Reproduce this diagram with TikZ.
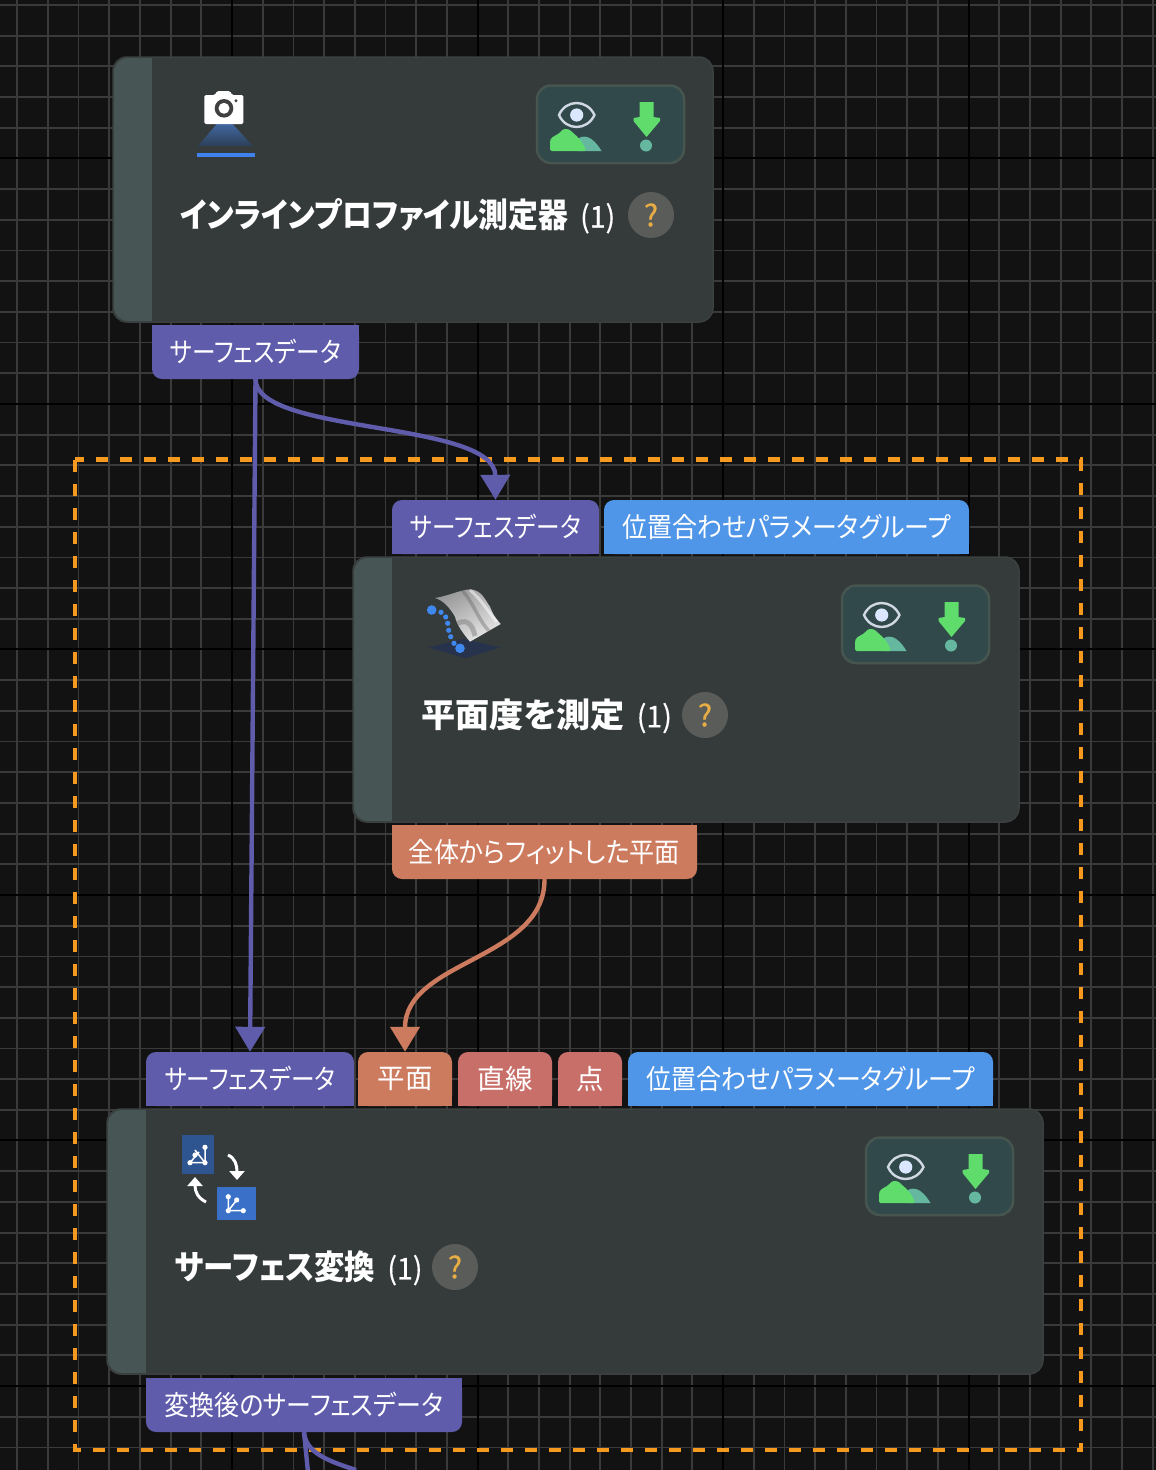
\documentclass[tikz,border=0pt]{standalone}
\usepackage{fontspec}
\usepackage{graphicx}
\usetikzlibrary{arrows.meta}
\setmainfont{Noto Sans CJK JP}[RawFeature={+palt}]
\newfontfamily\jp{Noto Sans CJK JP}[RawFeature={+palt}]
\newfontfamily\jpm{Noto Sans CJK JP}[FakeBold=0.5]
\definecolor{bg}{HTML}{121212}
\definecolor{gridc}{HTML}{3A3A3A}
\definecolor{nodec}{HTML}{353B3B}
\definecolor{nodeb}{HTML}{3A4140}
\definecolor{stripc}{HTML}{475655}
\definecolor{purp}{HTML}{5F5CAB}
\definecolor{bluep}{HTML}{5096E8}
\definecolor{orgp}{HTML}{CD7B5E}
\definecolor{redp}{HTML}{C96F6A}
\definecolor{framec}{HTML}{F59A1E}
\definecolor{greenc}{HTML}{5FDC6C}
\definecolor{tealc}{HTML}{66B7A0}
\definecolor{visb}{HTML}{31494A}
\definecolor{visl}{HTML}{46564F}
\definecolor{eyec}{HTML}{D0D8E4}
\definecolor{irisc}{HTML}{DBE6FF}
\definecolor{qc}{HTML}{5A5C5A}
\definecolor{qt}{HTML}{E8AD45}
\definecolor{trapt}{HTML}{41669F}
\definecolor{trapb}{HTML}{2C3F58}
\definecolor{barc}{HTML}{3F82EE}
\definecolor{sqa}{HTML}{2F5591}
\definecolor{sqb}{HTML}{3A70C8}
\definecolor{groundc}{HTML}{27334D}
\definecolor{dotc}{HTML}{3F88F0}
\tikzset{
  px/.style={x=1pt,y=-1pt},
  porttext/.style={inner sep=0pt,text=white,font=\jp\fontsize{27.5}{27.5}\selectfont,minimum height=54pt,rounded corners=10pt},
  titletext/.style={inner sep=0pt,anchor=west,text=white,font=\jp\fontsize{33.5}{33.5}\selectfont},
  nodebox/.style={fill=nodec,draw=nodeb,line width=1.5pt,rounded corners=14pt,inner sep=0pt,minimum height=265pt},
  wire/.style={line width=4.4pt},
  wiretip/.style={-{Triangle[width=29pt,length=25pt]}},
  qmark/.style={circle,fill=qc,minimum size=46pt,inner sep=0pt,text=qt,font=\jpm\fontsize{30}{30}\selectfont},
}
\newcommand\hs[2]{\scalebox{#1}[1]{#2}}
\newcommand\ttl[2]{\hs{#1}{\bfseries #2}\hspace{12pt}{\jpm\fontsize{30}{30}\selectfont\hs{.95}{(1)}}}
% top-side port: square lower half, then the rounded node
\newcommand\topport[6]{% name, x0, x1, y0, colour, text
  \pgfmathsetmacro\pw{#3-#2}\pgfmathsetmacro\pc{(#3+#2)/2}
  \fill[#5] (#2,#4+27) rectangle (#3,#4+54);
  \node[porttext,fill=#5,minimum width=\pw pt] (#1) at (\pc,#4+27) {#6};
}
\newcommand\botport[6]{%
  \pgfmathsetmacro\pw{#3-#2}\pgfmathsetmacro\pc{(#3+#2)/2}
  \fill[#5] (#2,#4) rectangle (#3,#4+27);
  \node[porttext,fill=#5,minimum width=\pw pt] (#1) at (\pc,#4+27) {#6};
}
\newcommand\flownode[4]{% name, x0, x1, y0
  \pgfmathsetmacro\pw{#3-#2}\pgfmathsetmacro\pc{(#3+#2)/2}
  \node[nodebox,minimum width=\pw pt] (#1) at (\pc,#4+132.5) {};
  \begin{scope}
    \clip[rounded corners=14pt] (#2+1,#4+1) rectangle (#3-1,#4+264);
    \fill[stripc] (#2,#4) rectangle (#2+39,#4+265);
  \end{scope}
}
\newcommand\visbox[2]{% shift from the first node's box
  \begin{scope}[shift={(#1,#2)}]
    \fill[visb,draw=visl,line width=2.5pt,rounded corners=14pt] (537,85.5) rectangle (684,163);
    \fill[tealc] (576,140) .. controls (583,134) and (592,135) .. (601.5,151) -- (578,151) -- cycle;
    \fill[greenc,rounded corners=1.5pt] (550,151) -- (550,141) .. controls (552,136) and (558,135) .. (561,131) .. controls (565,128) and (569,129) .. (572,132) .. controls (578,137) and (583,142) .. (586,151) -- cycle;
    \draw[eyec,line width=2.4pt] (559,115) .. controls (566,99) and (587,99) .. (594.5,115) .. controls (587,131) and (566,131) .. (559,115) -- cycle;
    \fill[irisc] (576.7,115) circle (6.6pt);
    \fill[greenc] (639.5,102) -- (653.5,102) -- (653.5,117) -- (660,118) -- (660,121) -- (646.5,137) -- (633.5,121) -- (633.5,118) -- (639.5,117) -- cycle;
    \fill[tealc] (646,145.5) circle (6pt);
  \end{scope}
}
\begin{document}
\begin{tikzpicture}[px]
\useasboundingbox (0,0) rectangle (1156,1470);
\clip (0,0) rectangle (1156,1470);
\fill[bg] (0,0) rectangle (1156,1470);
% grid
\foreach \k in {-1,...,38} {
  \draw[gridc,line width=1.8pt] (17.2+30.69*\k,0) -- (17.2+30.69*\k,1470);
}
\foreach \k in {-1,...,48} {
  \draw[gridc,line width=1.8pt] (0,5+30.69*\k) -- (1156,5+30.69*\k);
}
\foreach \k in {0,...,3} {
  \draw[black,line width=2pt] (232+245.5*\k,0) -- (232+245.5*\k,1470);
}
\foreach \k in {0,...,5} {
  \draw[black,line width=2pt] (0,158+245.5*\k) -- (1156,158+245.5*\k);
}
% group frame
\draw[framec,line width=4.6pt,dash pattern=on 12pt off 12pt] (75,459.5) rectangle (1081,1450);

% node 1
\flownode{n1}{113}{713}{57}
\botport{o1}{152}{359}{325}{purp}{\hs{.86}{サーフェスデータ}}
\visbox{0}{0}
\node[titletext] (t1) at (180,216) {\ttl{.89}{インラインプロファイル測定器}};
\node[qmark] (q1) at (651,215) {?};
% camera icon
\shade[top color=trapt,bottom color=trapb] (216.7,124) -- (232.7,124) -- (252.7,146) -- (198,146) -- cycle;
\fill[white,rounded corners=1.5pt] (204.3,95) -- (215,95) -- (217,91) -- (230,91) -- (232,95) -- (243.3,95) -- (243.3,124) -- (204.3,124) -- cycle;
\fill[white!25!black] (224,108.3) circle (9.3pt);
\fill[white] (224,108.3) circle (5.5pt);
\fill[white!25!black] (236,100.7) circle (1.6pt);
\fill[barc] (197.3,153.3) rectangle (254.7,157.3);

% node 2
\flownode{n2}{353}{1019}{557}
\topport{i2a}{392}{599}{500}{purp}{\hs{.86}{サーフェスデータ}}
\topport{i2b}{604}{969}{500}{bluep}{\hs{.906}{位置合わせパラメータグループ}}
\botport{o2}{392}{697}{825}{orgp}{\hs{.915}{全体からフィットした平面}}
\visbox{305}{500}
\node[titletext] (t2) at (421,716) {\ttl{1.02}{平面度を測定}};
\node[qmark] (q2) at (705,715) {?};
% surface icon
\fill[groundc] (428.3,647.3) -- (463,639) -- (500.7,647.3) -- (465,658.3) -- cycle;
\begin{scope}
  \clip (434.9,598) .. controls (448,596) and (460,590) .. (470,589.3) .. controls (482,590) and (485,600) .. (490,606.7) .. controls (493,615) and (497,620) .. (500.7,624) -- (470,641.7) .. controls (462,632) and (457,625) .. (455,616.7) .. controls (450,608) and (443,600) .. (434.9,598) -- cycle;
  \shade[left color=gray!85,right color=white!85!gray,shading angle=30] (430,585) rectangle (505,645);
  \draw[gray!70!black,line width=3.5pt,opacity=.35] (462,590) .. controls (475,605) and (478,620) .. (490,632);
  \draw[white,line width=3pt,opacity=.5] (470,590) .. controls (482,600) and (488,612) .. (497,622);
  \draw[gray,line width=5pt,opacity=.5] (455,625) .. controls (465,618) and (472,622) .. (475,636);
\end{scope}
\foreach \dx/\dy/\dr in {431.7/610/4.8, 441/612.3/2.6, 445.7/617/2.6, 447.7/623.3/2.6, 448.7/630.3/2.6, 450.7/636.7/2.6, 454/643.3/2.6, 460/648.3/4.8} {
  \fill[dotc] (\dx,\dy) circle (\dr pt);
}

% node 3
\flownode{n3}{107}{1043}{1109}
\topport{i3a}{146}{354}{1052}{purp}{\hs{.86}{サーフェスデータ}}
\topport{i3b}{358}{452}{1052}{orgp}{平面}
\topport{i3c}{458}{552}{1052}{redp}{直線}
\topport{i3d}{558}{622}{1052}{redp}{点}
\topport{i3e}{628}{993}{1052}{bluep}{\hs{.906}{位置合わせパラメータグループ}}
\botport{o3}{146}{462}{1378}{purp}{\hs{.906}{変換後のサーフェスデータ}}
\visbox{329}{1052}
\node[titletext] (t3) at (175,1268) {\ttl{.91}{サーフェス変換}};
\node[qmark] (q3) at (455,1267) {?};
% transform icon
\fill[sqa] (182,1135) rectangle (214,1174);
\fill[sqb] (216.7,1187) rectangle (255.7,1220);
\draw[white,line width=1.5pt] (190,1162.7) -- (205,1162.7) -- (205,1147.3) (190,1162.7) -- (199,1152) (205,1162.7) -- (195,1150);
\foreach \dx/\dy in {190/1162.7,205/1162.7,205/1147.3,195/1155} {\fill[white] (\dx,\dy) circle (2.6pt);}
\draw[white,line width=1.5pt] (228.3,1196.7) -- (228.3,1210.7) -- (243.3,1210.7) (228.3,1210.7) -- (236.7,1200);
\foreach \dx/\dy in {228.3/1196.7,228.3/1210.7,243.3/1210.7,236.7/1200} {\fill[white] (\dx,\dy) circle (2.6pt);}
\draw[white,line width=3pt,-{Triangle[width=15pt,length=9pt]}] (228,1155) .. controls (235,1158) and (237,1165) .. (237,1180);
\draw[white,line width=3pt,-{Triangle[width=15pt,length=9pt]}] (206,1202) .. controls (198,1198) and (195,1192) .. (195,1177);

% connectors
\coordinate (e1) at (308,1472);
\coordinate (e2) at (356,1470);
\draw[purp,wire,wiretip] (o1.south) -- (i3a.north);
\draw[purp,wire,wiretip] (o1.south) .. controls (256,435) and (495,420) .. (i2a.north);
\draw[orgp,wire,wiretip] (o2.south) .. controls (545,960) and (405,960) .. (i3b.north);
\draw[purp,wire] (o3.south) -- (e1);
\draw[purp,wire] (o3.south) .. controls (306,1452) and (325,1460) .. (e2);
\end{tikzpicture}
\end{document}
